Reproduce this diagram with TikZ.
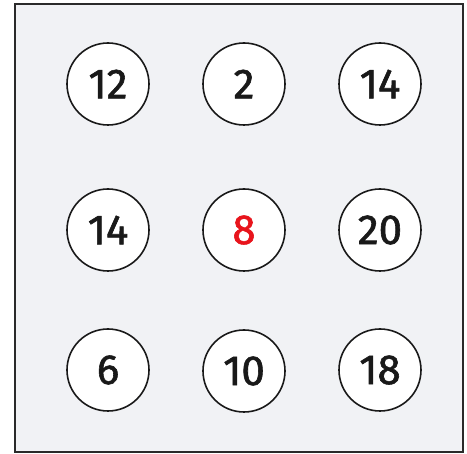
\documentclass[tikz,border=0pt]{standalone}
\usepackage{fontspec}
\setmainfont{Fira Sans}
\newfontfamily\numfont[FakeBold=1.4]{Fira Sans}
\usepackage{xcolor}
\usetikzlibrary{positioning}
\definecolor{cBg}{HTML}{F1F2F5}
\definecolor{cFrame}{HTML}{2A2A2A}
\definecolor{cHi}{HTML}{E8141C}
\tikzset{
  frame/.style ={draw=cFrame, fill=cBg, line width=1.8pt},
  ball/.style  ={circle, draw=black!90, fill=white, line width=1.6pt,
                 minimum size=82pt, inner sep=0pt,
                 font=\numfont\fontsize{42}{46}\selectfont, text=black!90},
  hi/.style    ={ball, text=cHi},
}

\begin{document}
\begin{tikzpicture}[x=1pt, y=-1pt]
  \useasboundingbox (0,0) rectangle (467,454);

  % ===== panel =====
  \draw[frame] (15,4) rectangle (463,452);

  % ===== top row =====
  \node[ball] (a1) at (108,84)  {12};
  \node[ball] (a2) at (244,84)  {2};
  \node[ball] (a3) at (380,84)  {14};

  % ===== middle row =====
  \node[ball] (b1) at (108,230) {14};
  \node[hi]   (b2) at (244,230) {8};
  \node[ball] (b3) at (380,230) {20};

  % ===== bottom row =====
  \node[ball] (c1) at (108,370) {6};
  \node[ball] (c2) at (244,371) {10};
  \node[ball] (c3) at (380,370) {18};

\end{tikzpicture}
\end{document}
